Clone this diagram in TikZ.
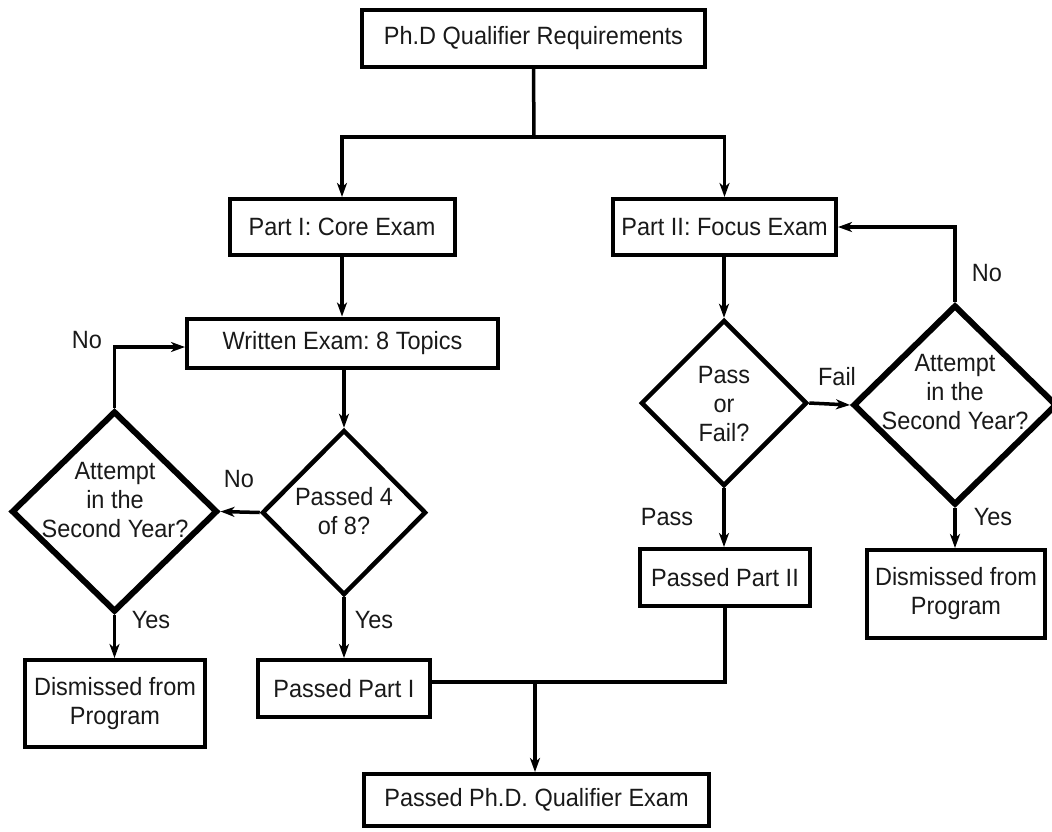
\documentclass[tikz,border=0pt]{standalone}
\usepackage{fontspec}
\setmainfont[FakeStretch=0.94]{Liberation Sans}
\usetikzlibrary{shapes.geometric,arrows.meta}
\frenchspacing
\begin{document}
\begin{tikzpicture}[x=1pt,y=-1pt,
  every node/.style={font=\fontsize{25}{29}\selectfont\frenchspacing, text=black!90},
  box/.style={draw, line width=4pt, rectangle, inner sep=0pt, align=center},
  dia/.style={draw, diamond, inner sep=0pt},
  thindia/.style={dia, line width=4.5pt},
  thickdia/.style={dia, line width=6pt},
  dtext/.style={align=center, inner sep=0pt},
  lbl/.style={inner sep=0pt},
  conn/.style={line width=3.5pt},
  arr/.style={conn, -{Stealth[length=14pt,width=10pt,inset=4pt]}}
]
\useasboundingbox (0,0) rectangle (1052,831);
% boxes
\node[box, minimum width=343, minimum height=57] (top) at (533.5,38.5) {Ph.D Qualifier Requirements};
\node[box, minimum width=225, minimum height=56] (p1) at (342,227) {Part I: Core Exam};
\node[box, minimum width=223, minimum height=56] (p2) at (724.5,227) {Part II: Focus Exam};
\node[box, minimum width=311, minimum height=49] (we) at (342.5,343) {Written Exam: 8 Topics};
\node[box, minimum width=180, minimum height=87] (dis1) at (115,703.5) {Dismissed from\\Program};
\node[box, minimum width=172, minimum height=57] (pp1) at (344,688.5) {Passed Part I};
\node[box, minimum width=170, minimum height=57] (pp2) at (725,577.5) {Passed Part II};
\node[box, minimum width=178, minimum height=88] (dis2) at (956,594) {Dismissed from\\Program};
\node[box, minimum width=345, minimum height=52] (final) at (536.5,800) {Passed Ph.D. Qualifier Exam};
% diamonds
\node[thindia, minimum width=164, minimum height=165] (d1) at (344,512.5) {};
\node[dtext] (d1t) at (344,511) {Passed 4\\of 8?};
\node[thickdia, minimum width=206, minimum height=201] (d2) at (114.5,511.5) {};
\node[dtext] (d2t) at (115,500) {Attempt\\in the\\Second Year?};
\node[thindia, minimum width=166, minimum height=166] (d3) at (724,403) {};
\node[dtext] (d3t) at (724,404) {Pass\\or\\Fail?};
\node[thickdia, minimum width=204, minimum height=200] (d4) at (955,405) {};
\node[dtext] (d4t) at (955,392) {Attempt\\in the\\Second Year?};
% junctions
\coordinate (j1) at (534,137);
\coordinate (j2) at (535,682);
% connectors
\draw[conn] (top.south) -- (j1);
\draw[arr] (j1) -| (p1.north);
\draw[arr] (j1) -| (p2.north);
\draw[arr] (p1.south) -- (p1.south |- we.north);
\draw[arr] (we.south -| d1.north) -- (d1.north);
\draw[arr] (d1.west) -- (d2.east);
\draw[arr] (d2.north) |- ([yshift=-4pt]we.west);
\draw[arr] (d2.south) -- (dis1.north -| d2.south);
\draw[arr] (d1.south) -- (pp1.north -| d1.south);
\draw[conn] (pp2.south) |- (pp1.east |- j2);
\draw[arr] (j2) -- (j2 |- final.north);
\draw[arr] (p2.south -| d3.north) -- (d3.north);
\draw[arr] (d3.east) -- (d4.west);
\draw[arr] (d4.north) |- (p2.east);
\draw[arr] (d4.south) -- (dis2.north -| d4.south);
\draw[arr] (d3.south) -- (pp2.north -| d3.south);
% labels
\node[lbl] (lno1) at (87,340) {No};
\node[lbl] (lno2) at (239,479) {No};
\node[lbl] (lyes1) at (151,620) {Yes};
\node[lbl] (lyes2) at (374,620) {Yes};
\node[lbl] (lpass) at (667,517) {Pass};
\node[lbl] (lfail) at (837,377) {Fail};
\node[lbl] (lno3) at (987,273) {No};
\node[lbl] (lyes3) at (993,517) {Yes};
\end{tikzpicture}
\end{document}
